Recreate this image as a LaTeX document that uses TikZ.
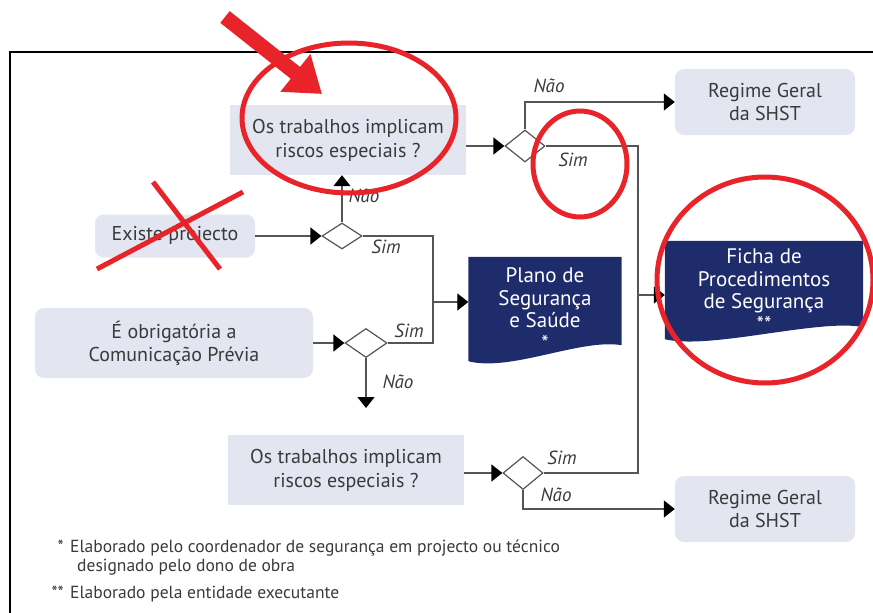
\documentclass[tikz,border=0pt]{standalone}
\usepackage{fontspec}
\setmainfont{PT Sans}
\usetikzlibrary{shapes.geometric, arrows.meta, backgrounds, calc}

\definecolor{boxfill}{HTML}{E3E6F1}
\definecolor{navy}{HTML}{1F2C6B}
\definecolor{txt}{HTML}{3A3A3A}
\definecolor{linegray}{HTML}{555555}
\definecolor{redmark}{HTML}{E8232A}

\begin{document}
\begin{tikzpicture}[x=1pt, y=-1pt]

        \tikzstyle{qbox} = [rectangle, fill=boxfill, text=txt, align=center, font=\fontsize{20}{24}\selectfont, minimum width=236pt, minimum height=70pt];
        \tikzstyle{rbox} = [rectangle, rounded corners=9pt, fill=boxfill, text=txt, align=center, font=\fontsize{20}{23}\selectfont];
        \tikzstyle{docbox} = [rectangle, text=white, align=center, font=\fontsize{21}{22.5}\selectfont];
        \tikzstyle{decision} = [diamond, draw=linegray, fill=white, line width=1.2pt, inner sep=0pt, minimum width=40pt, minimum height=30pt];
        \tikzstyle{answer} = [text=txt, font=\fontsize{19}{20}\selectfont\itshape];
        \tikzstyle{line} = [draw=linegray, line width=1.3pt];
        \tikzstyle{arrow} = [line, -{Triangle[length=11pt, width=17pt, color=black]}];
        \tikzstyle{note} = [text=txt, anchor=base west, inner sep=0pt, font=\fontsize{17.5}{20}\selectfont];
        \tikzstyle{redpen} = [draw=redmark, line width=5pt];

        \useasboundingbox (0,0) rectangle (873,613);
        \clip (0,0) rectangle (873,613);

        % frame
        \draw[line width=2pt] (10,630) -- (10,52) -- (890,52);

        % questions and answers
        \node[qbox] (Q1) at (348,140) {Os trabalhos implicam\\riscos especiais ?};
        \node[rbox, minimum width=160pt, minimum height=43pt] (PRJ) at (175,236) {Existe projecto};
        \node[rbox, minimum width=278pt, minimum height=70pt] (COM) at (174,343) {É obrigatória a\\Comunicação Prévia};
        \node[qbox] (Q2) at (346,470) {Os trabalhos implicam\\riscos especiais ?};

        \node[rbox, minimum width=180pt, minimum height=66pt] (RG1) at (765,102) {Regime Geral\\da SHST};
        \node[rbox, minimum width=180pt, minimum height=66pt] (RG2) at (765,509) {Regime Geral\\da SHST};

        \node[docbox, minimum width=153pt, minimum height=104pt] (PSS) at (545,309) {Plano de\\Segurança\\e Saúde\\*};
        \node[docbox, minimum width=198pt, minimum height=98pt] (FPS) at (764,290) {Ficha de\\Procedimentos\\de Segurança\\**};

        \begin{scope}[on background layer]
        \fill[navy] (PSS.north west) -- (PSS.north east) -- ([yshift=16pt]PSS.south east)
            .. controls ([xshift=-41pt,yshift=23pt]PSS.south east) and ([xshift=42pt,yshift=-11pt]PSS.south west) .. (PSS.south west) -- cycle;
        \fill[navy] (FPS.north west) -- (FPS.north east) -- ([yshift=12pt]FPS.south east)
            .. controls ([xshift=-43pt,yshift=21pt]FPS.south east) and ([xshift=45pt,yshift=-11pt]FPS.south west) .. (FPS.south west) -- cycle;
        \end{scope}

        % decisions
        \node[decision, minimum height=26pt] (D1) at (342,236) {};
        \node[decision, minimum width=40pt, minimum height=32pt] (D2) at (525,146) {};
        \node[decision, minimum width=42pt, minimum height=29pt] (D3) at (366,343) {};
        \node[decision, minimum width=40pt, minimum height=33pt] (D4) at (523,473) {};

        \coordinate (JP) at (433,302);
        \coordinate (JF) at (638,295);
        \coordinate (D3end) at (366,408);

        \node[answer] (D1no) at ([xshift=22pt,yshift=40pt]D1) {Não};
        \node[answer] (D1yes) at ([xshift=44pt,yshift=-11pt]D1) {Sim};
        \node[answer] (D2no) at ([xshift=24pt,yshift=60pt]D2) {Não};
        \node[answer] (D2yes) at ([xshift=48pt,yshift=-14pt]D2) {Sim};
        \node[answer] (D3yes) at ([xshift=43pt,yshift=12pt]D3) {Sim};
        \node[answer] (D3no) at ([xshift=32pt,yshift=-39pt]D3) {Não};
        \node[answer] (D4yes) at ([xshift=39pt,yshift=15pt]D4) {Sim};
        \node[answer] (D4no) at ([xshift=33pt,yshift=-22pt]D4) {Não};

        % connectors
        \draw[arrow] (PRJ.east) -- (D1.west);
        \draw[arrow] (D1.north) -- (D1.north |- Q1.south);
        \draw[line] (D1.east) -| (JP);
        \draw[line] (D3.east) -| (JP);
        \draw[arrow] (JP) -- (JP -| PSS.west);

        \draw[arrow] (COM.east) -- (D3.west);
        \draw[arrow] (D3.south) -- (D3end);

        \draw[arrow] (Q1.east |- D2) -- (D2.west);
        \draw[arrow] (D2.north) |- (RG1.west);
        \draw[line] (D2.east) -| (JF);
        \draw[line] (D4.east) -| (JF);
        \draw[arrow] (JF) -- (JF -| FPS.west);

        \draw[arrow] (Q2.east |- D4) -- (D4.west);
        \draw[arrow] (D4.south) |- (RG2.west);

        % notes
        \node[note, anchor=base east] (N1s) at (64,552) {*};
        \node[note] (N1) at (70,552) {Elaborado pelo coordenador de segurança em projecto ou técnico};
        \node[note] (N1b) at (77,571) {designado pelo dono de obra};
        \node[note, anchor=base east] (N2s) at (64,598) {**};
        \node[note] (N2) at (70,598) {Elaborado pela entidade executante};

        % red marks
        \draw[redpen] (349,118) ellipse [x radius=107, y radius=75];
        \draw[redpen] (580,164) ellipse [x radius=47, y radius=53];
        \draw[redpen] (765,280) ellipse [x radius=108, y radius=103];
        \coordinate (RA) at (225,17);
        \coordinate (RB) at (322,94);
        \draw[draw=redmark, line width=15pt, -{Triangle[length=34pt, width=46pt, color=redmark]}] (RA) -- (RB);
        \coordinate (X1) at (97,269);
        \coordinate (X2) at (243,192);
        \coordinate (X3) at (153,182);
        \coordinate (X4) at (220,269);
        \draw[redpen] (X1) -- (X2);
        \draw[redpen] (X3) -- (X4);

\end{tikzpicture}
\end{document}
